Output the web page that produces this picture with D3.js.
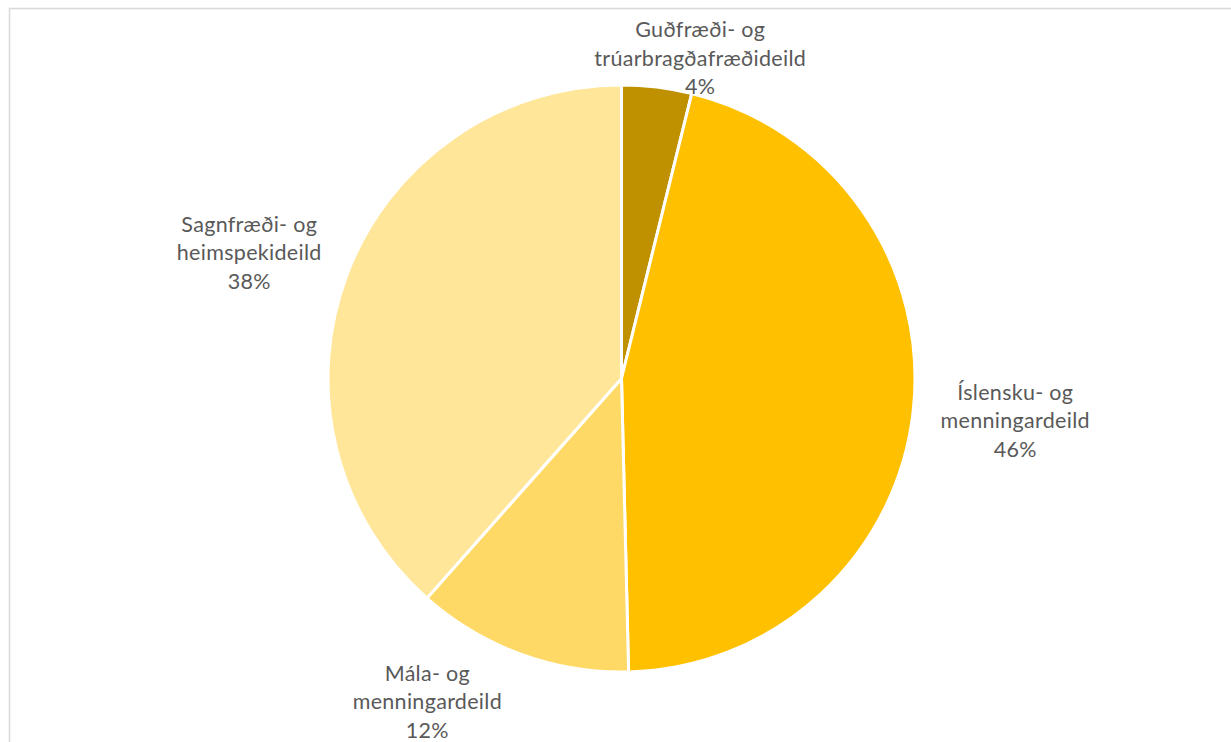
<!DOCTYPE html>
<html>
<head>
<meta charset="utf-8">
<script src="https://cdn.jsdelivr.net/npm/d3@7"></script>
<style>
  html, body { margin: 0; padding: 0; background: #fff; }
  svg { display: block; }
</style>
</head>
<body>
<svg id="chart" width="1231" height="742"></svg>
<script>
// ---- data ----
const categories = [
  ["Guðfræði- og", "trúarbragðafræðideild"],
  ["Íslensku- og", "menningardeild"],
  ["Mála- og", "menningardeild"],
  ["Sagnfræði- og", "heimspekideild"]
];
const values = [10, 119, 31, 100];
const colors = ["#BF9000", "#FFC000", "#FFD966", "#FFE699"];
// label placement (polar: degrees clockwise from top, distance from centre)
const labelAngles = [13.8, 96.1, 211, 288.7];
const labelDistances = [330, 396, 377, 393];

// ---- layout ----
const W = 1231, H = 742;
const cx = 621.5, cy = 378.5, R = 293.5;
const svg = d3.select("#chart");

// chart area border
svg.append("rect")
  .attr("x", 9.5).attr("y", 8.5)
  .attr("width", W + 20).attr("height", H + 20)
  .attr("fill", "none").attr("stroke", "#D9D9D9").attr("stroke-width", 1.5);

const total = d3.sum(values);
const pie = d3.pie().sort(null).value(d => d)(values);
const arc = d3.arc().innerRadius(0).outerRadius(R);

const g = svg.append("g").attr("transform", `translate(${cx},${cy})`);
g.selectAll("path").data(pie).join("path")
  .attr("d", arc)
  .attr("fill", (d, i) => colors[i])
  .attr("stroke", "#fff")
  .attr("stroke-width", 3)
  .attr("stroke-linejoin", "round");

const fmt = d3.format(".0%");
const lineH = 28.5;
const labels = g.selectAll("text.lbl").data(pie).join("text")
  .attr("class", "lbl")
  .attr("text-anchor", "middle")
  .attr("font-family", "Lato, 'Open Sans', sans-serif")
  .attr("font-size", 21.5)
  .attr("letter-spacing", 0.3)
  .attr("fill", "#595959")
  .attr("transform", (d, i) => {
    const a = labelAngles[i] * Math.PI / 180;
    const r = labelDistances[i];
    return `translate(${r * Math.sin(a)},${-r * Math.cos(a)})`;
  });

labels.each(function(d, i) {
  const lines = categories[i].concat([fmt(d.value / total)]);
  const t = d3.select(this);
  lines.forEach((s, k) => {
    t.append("tspan")
      .attr("x", 0)
      .attr("y", (k - (lines.length - 1) / 2) * lineH)
      .attr("dy", "0.35em")
      .text(s);
  });
});
</script>
</body>
</html>
